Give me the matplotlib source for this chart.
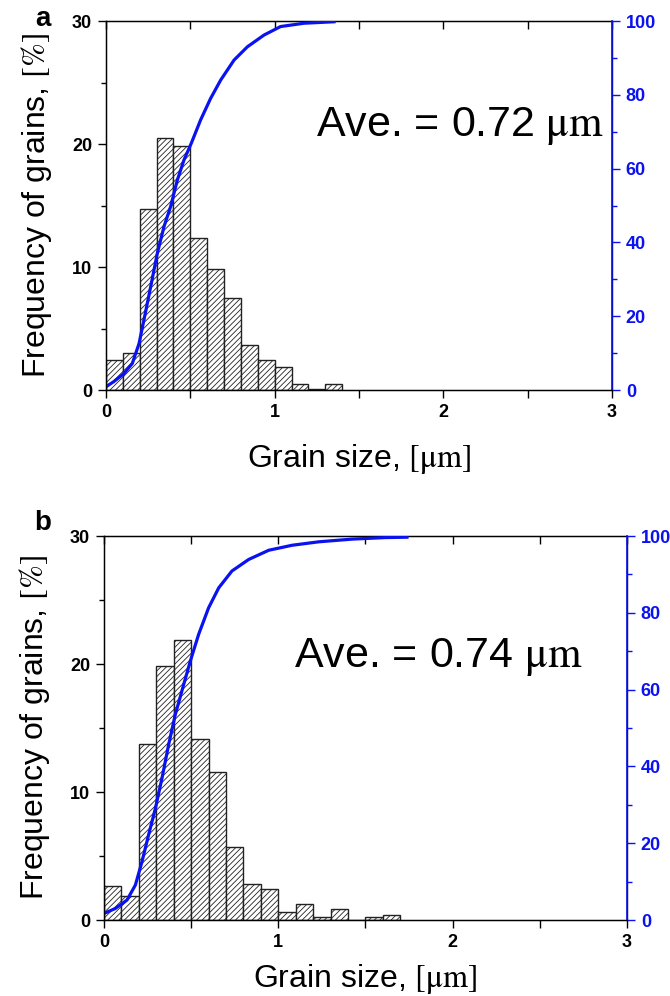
import numpy as np
import matplotlib
matplotlib.use("Agg")
import matplotlib.pyplot as plt
from matplotlib.ticker import MultipleLocator

plt.rcParams['mathtext.fontset'] = 'stix'
plt.rcParams['hatch.linewidth'] = 0.6

# bin left edges, 0.1 um wide
bins_a = [0.0, 0.1, 0.2, 0.3, 0.4, 0.5, 0.6, 0.7, 0.8, 0.9, 1.0, 1.1, 1.2, 1.3]
freq_a = [2.45, 3.0, 14.7, 20.5, 19.8, 12.4, 9.85, 7.5, 3.7, 2.45, 1.9, 0.46, 0.1, 0.46]
# cumulative curve (right axis, %)
cum_x_a = [0.0, 0.047, 0.107, 0.156, 0.196, 0.225, 0.265, 0.304, 0.344, 0.383,
           0.423, 0.462, 0.506, 0.561, 0.62, 0.68, 0.759, 0.838, 0.937, 1.035,
           1.174, 1.352]
cum_y_a = [0.9, 2.3, 4.5, 7.2, 12.6, 19.0, 28.0, 37.0, 44.3, 49.7,
           56.9, 62.3, 66.9, 73.2, 79.0, 84.0, 89.4, 93.0, 96.2, 98.5,
           99.4, 99.8]

bins_b = [0.0, 0.1, 0.2, 0.3, 0.4, 0.5, 0.6, 0.7, 0.8, 0.9, 1.0, 1.1, 1.2, 1.3,
          1.4, 1.5, 1.6]
freq_b = [2.66, 1.88, 13.76, 19.84, 21.9, 14.17, 11.56, 5.69, 2.85, 2.43, 0.6,
          1.23, 0.24, 0.83, 0.0, 0.24, 0.42]
cum_x_b = [0.0, 0.065, 0.132, 0.18, 0.218, 0.256, 0.295, 0.333, 0.371, 0.409,
           0.457, 0.495, 0.543, 0.6, 0.658, 0.734, 0.83, 0.945, 1.079, 1.232,
           1.423, 1.614, 1.738]
cum_y_b = [1.7, 3.0, 5.2, 9.1, 15.2, 22.2, 29.1, 37.0, 45.7, 53.5,
           61.3, 67.4, 74.4, 81.3, 86.5, 90.9, 93.9, 96.3, 97.6, 98.5,
           99.2, 99.6, 99.7]

ave_a = "Ave. = 0.72 $\\mathrm{\\mu m}$"
ave_b = "Ave. = 0.74 $\\mathrm{\\mu m}$"

SANS = dict(family='Liberation Sans', weight='normal')
BLUE = '#0a12f0'


def draw_panel(ax, bins, freq, cx, cy, ave, ave_xy, xpad):
    ax.bar(bins, freq, width=0.1, align='edge', facecolor='white',
           edgecolor='#222222', linewidth=1.0, hatch='//////')
    ax.set_xlim(0, 3)
    ax.set_ylim(0, 30)
    ax.xaxis.set_major_locator(MultipleLocator(1))
    ax.xaxis.set_minor_locator(MultipleLocator(0.5))
    ax.yaxis.set_major_locator(MultipleLocator(10))
    ax.yaxis.set_minor_locator(MultipleLocator(5))
    ax.tick_params(axis='both', which='both', direction='out', width=1.0,
                   labelsize=13, pad=4)
    ax.tick_params(axis='x', which='both', length=6)
    ax.tick_params(axis='y', which='major', length=6)
    ax.tick_params(axis='y', which='minor', length=3.5)
    for lab in ax.get_xticklabels() + ax.get_yticklabels():
        lab.set_fontweight('bold')
        lab.set_family('Liberation Sans')
    ax.set_xlabel("Grain size, $\\mathrm{[\\mu m]}$", fontsize=23,
                  labelpad=xpad, **SANS)
    ax.set_ylabel("Frequency of grains, $\\mathrm{[\\%]}$", fontsize=23,
                  labelpad=13, **SANS)
    for s in ax.spines.values():
        s.set_linewidth(1.0)

    # top ticks pointing in
    top = ax.secondary_xaxis('top')
    top.xaxis.set_major_locator(MultipleLocator(0.5))
    top.tick_params(direction='in', length=6, width=1.0, labeltop=False)

    ax2 = ax.twinx()
    ax2.plot(cx, cy, color=BLUE, linewidth=2.3)
    ax2.set_ylim(0, 100)
    ax2.yaxis.set_major_locator(MultipleLocator(20))
    ax2.yaxis.set_minor_locator(MultipleLocator(10))
    ax2.tick_params(axis='y', which='major', direction='out', length=6,
                    width=1.0, colors=BLUE, labelsize=13, pad=4)
    ax2.tick_params(axis='y', which='minor', direction='out', length=3.5,
                    width=1.0, colors=BLUE)
    for lab in ax2.get_yticklabels():
        lab.set_fontweight('bold')
        lab.set_family('Liberation Sans')
    ax2.spines['right'].set_color(BLUE)
    ax2.spines['right'].set_linewidth(1.2)
    ax2.spines['top'].set_visible(False)

    ax.text(ave_xy[0], ave_xy[1], ave, transform=ax.transAxes, fontsize=31,
            ha='right', va='center', **SANS)


fig = plt.figure(figsize=(6.7, 9.96), dpi=100)
ax_a = fig.add_axes([0.1582, 0.6084, 0.7552, 0.3705])
ax_b = fig.add_axes([0.1552, 0.0763, 0.7806, 0.3855])

draw_panel(ax_a, bins_a, freq_a, cum_x_a, cum_y_a, ave_a, (0.985, 0.715), 15)
draw_panel(ax_b, bins_b, freq_b, cum_x_b, cum_y_b, ave_b, (0.915, 0.685), 8)

# panel letters
fig.text(43 / 670, 1 - 26 / 996, 'a', fontsize=20, fontweight='bold',
         family='Liberation Sans', ha='center', va='baseline')
fig.text(43 / 670, 1 - 530 / 996, 'b', fontsize=20, fontweight='bold',
         family='Liberation Sans', ha='center', va='baseline')

fig.savefig('out.png', dpi=100)
